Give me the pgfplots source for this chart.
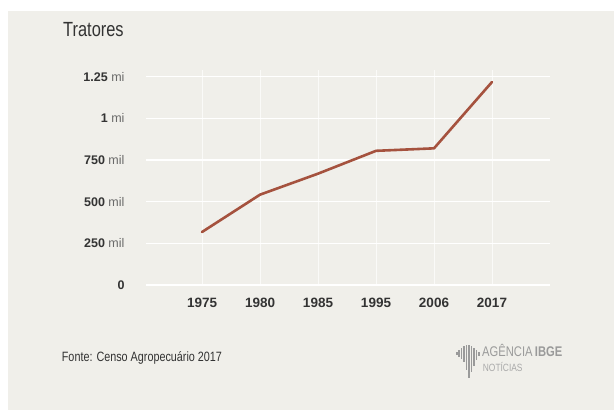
\documentclass[border=0pt]{standalone}
\usepackage{pgfplots}
\pgfplotsset{compat=1.18}
\usepackage{fontspec}
\setmainfont{Liberation Sans}
\newfontfamily\condfont[FakeStretch=0.8]{Liberation Sans}
\definecolor{bg}{HTML}{F0EFEA}
\definecolor{linec}{HTML}{A5523E}
\definecolor{txt}{HTML}{333333}
\definecolor{unit}{HTML}{6A6A6A}
\definecolor{logo}{HTML}{9A9A9A}
\begin{document}
\begin{tikzpicture}[x=1pt,y=1pt]
\fill[white] (0,0) rectangle (614,410);
\fill[bg] (8,0) rectangle (614,399);
\node[anchor=base west, inner sep=0pt, text=txt, font=\condfont\fontsize{20.5}{24}\selectfont] at (63,373.3) {Tratores};
\node[anchor=base west, inner sep=0pt, text=txt, font=\condfont\fontsize{13.5}{16}\selectfont] at (61.7,48.3) {Fonte: Censo Agropecuário 2017};
% logo
\foreach \xx/\tp/\bt in {457/352/355, 459/350/357, 461.5/348/359, 464/346/362, 466.5/345/370, 469/345/378, 471.5/346/372, 474/348/366, 476.5/350/360, 479/352/356}{
  \fill[logo] (\xx-0.8,410-\bt) rectangle (\xx+0.8,410-\tp);
}
\node[anchor=base west, inner sep=0pt, text=logo, font=\condfont\fontsize{14}{16}\selectfont] at (482,53.3) {AGÊNCIA\,\textbf{IBGE}};
\node[anchor=base west, inner sep=0pt, text=logo!85, font=\condfont\fontsize{10.5}{12}\selectfont] at (482.7,38) {NOTÍCIAS};
\begin{axis}[
  at={(146pt,125pt)}, anchor=south west,
  scale only axis, width=404pt, height=215pt,
  xmin=-0.966, xmax=6, ymin=0, ymax=1290000,
  axis line style={draw=none},
  tick style={draw=none},
  grid=major,
  x grid style={white, line width=0.7pt, opacity=0.7},
  y grid style={white, line width=1.4pt},
  xtick={0,1,2,3,4,5},
  xticklabels={1975,1980,1985,1995,2006,2017},
  ytick={0,250000,500000,750000,1000000,1250000},
  yticklabels={\textbf{0},\textbf{250} {\color{unit}mil},\textbf{500} {\color{unit}mil},\textbf{750} {\color{unit}mil},\textbf{1} {\color{unit}mi},\textbf{1.25} {\color{unit}mi}},
  scaled y ticks=false,
  xticklabel style={font=\bfseries\fontsize{13.5}{15}\selectfont, text=txt, yshift=-10pt},
  yticklabel style={font=\fontsize{12.5}{14}\selectfont, text=txt, anchor=east, xshift=-18pt},
]
\addplot[linec, line width=2.6pt, line join=round, line cap=round] coordinates {
  (0,318000) (1,542000) (2,668000) (3,805000) (4,820000) (5,1218000)
};
\end{axis}
\end{tikzpicture}
\end{document}
